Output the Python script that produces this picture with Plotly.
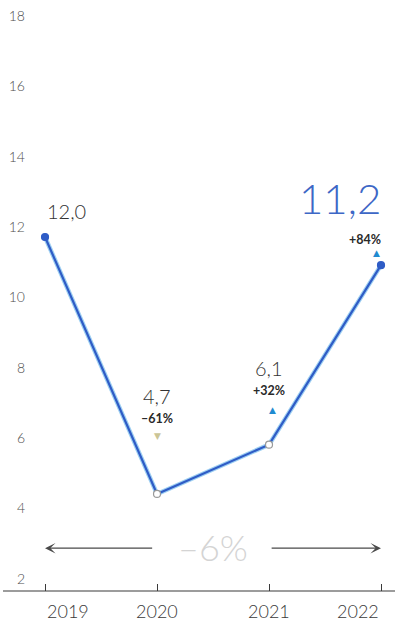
import plotly.graph_objects as go

# Passenger figures per year (millions) and year-on-year changes
years = [2019, 2020, 2021, 2022]
values = [12.0, 4.7, 6.1, 11.2]
value_labels = ["12,0", "4,7", "6,1", "11,2"]
change_labels = [None, "–61%", "+32%", "+84%"]
change_up = [None, False, True, True]
total_change_label = "–6%"
y_ticks = [2, 4, 6, 8, 10, 12, 14, 16, 18]

FONT = "Lato"
LINE_BLUE = "#2f5cc6"
TEXT_DARK = "#333333"

fig = go.Figure()

# soft halo under the line
fig.add_trace(go.Scatter(
    x=years, y=values, mode="lines",
    line=dict(color="#9fd0f2", width=4.5),
    hoverinfo="skip", showlegend=False,
))
# main line with markers: filled at the ends, hollow in between
fig.add_trace(go.Scatter(
    x=years, y=values, mode="lines+markers",
    line=dict(color=LINE_BLUE, width=2.2),
    marker=dict(
        size=7,
        color=[LINE_BLUE, "white", "white", LINE_BLUE],
        line=dict(color=[LINE_BLUE, "#9a9a9a", "#9a9a9a", LINE_BLUE], width=1.2),
    ),
    showlegend=False,
))

ann = []

# value labels
value_style = [
    dict(xanchor="left", xshift=0, yshift=26, size=20, color=TEXT_DARK),
    dict(xanchor="center", xshift=0, yshift=98, size=20, color=TEXT_DARK),
    dict(xanchor="center", xshift=0, yshift=77, size=20, color=TEXT_DARK),
    dict(xanchor="right", xshift=2, yshift=67, size=42, color="#3d67c6"),
]
change_style = [
    None,
    dict(xanchor="center", xshift=0, yshift=75, tri_shift=(0, 58)),
    dict(xanchor="center", xshift=0, yshift=54, tri_shift=(3, 35)),
    dict(xanchor="right", xshift=2, yshift=26, tri_shift=(-5, 12)),
]
for i, (x, y) in enumerate(zip(years, values)):
    s = value_style[i]
    ann.append(dict(
        x=x, y=y, xref="x", yref="y", text=value_labels[i], showarrow=False,
        xanchor=s["xanchor"], yanchor="middle", xshift=s["xshift"], yshift=s["yshift"],
        font=dict(family=FONT, size=s["size"], color=s["color"], weight=300),
    ))
    if change_labels[i]:
        c = change_style[i]
        ann.append(dict(
            x=x, y=y, xref="x", yref="y", text="<b>" + change_labels[i] + "</b>",
            showarrow=False, xanchor=c["xanchor"], yanchor="middle",
            xshift=c["xshift"], yshift=c["yshift"],
            font=dict(family=FONT, size=12.5, color="#2a2a2a"),
        ))
        up = change_up[i]
        ann.append(dict(
            x=x, y=y, xref="x", yref="y", text="▲" if up else "▼",
            showarrow=False, xanchor="center", yanchor="middle",
            xshift=c["tri_shift"][0], yshift=c["tri_shift"][1],
            font=dict(family="DejaVu Sans", size=9,
                      color="#1f8bd0" if up else "#cbc596"),
        ))

# overall change across the period, with arrows spanning the years
ARROW_LEVEL = 3.16
mid_year = (years[1] + years[2]) / 2
ann.append(dict(
    x=mid_year, y=ARROW_LEVEL, xref="x", yref="y", text=total_change_label,
    showarrow=False, xanchor="center", yanchor="middle", yshift=1,
    font=dict(family=FONT, size=36, color="#d4d4d4", weight=300),
))
ann.append(dict(
    x=years[0], y=ARROW_LEVEL, ax=mid_year - 0.53, ay=ARROW_LEVEL,
    xref="x", yref="y", axref="x", ayref="y", text="",
    showarrow=True, arrowhead=3, arrowsize=1.6, arrowwidth=1.1, arrowcolor="#4a4a4a",
))
ann.append(dict(
    x=years[3], y=ARROW_LEVEL, ax=mid_year + 0.51, ay=ARROW_LEVEL,
    xref="x", yref="y", axref="x", ayref="y", text="",
    showarrow=True, arrowhead=3, arrowsize=1.6, arrowwidth=1.1, arrowcolor="#4a4a4a",
))

# year labels under the baseline
year_anchor = ["left", "center", "center", "right"]
for x, a in zip(years, year_anchor):
    ann.append(dict(
        x=x, y=0, xref="x", yref="paper", text=str(x), showarrow=False,
        xanchor=a, yanchor="middle", yshift=-20,
        font=dict(family=FONT, size=18, color="#3a3a3a", weight=300),
    ))

fig.update_layout(
    width=395, height=623,
    margin=dict(l=28, r=0, t=0, b=32),
    paper_bgcolor="white", plot_bgcolor="white",
    annotations=ann,
    shapes=[dict(
        type="line", xref="paper", yref="paper",
        x0=-25 / 367, x1=1, y0=0, y1=0,
        line=dict(color="#3a3a3a", width=1.2),
    )],
    xaxis=dict(
        range=[2018.848, 2022.125], showgrid=False, zeroline=False, showline=False,
        tickvals=years, ticks="inside", ticklen=7, tickwidth=1, tickcolor="#3a3a3a",
        showticklabels=False, fixedrange=True,
    ),
    yaxis=dict(
        range=[1.943, 18.733], showgrid=False, zeroline=False, showline=False,
        tickvals=y_ticks, ticktext=[str(v) for v in y_ticks],
        ticklabelshift=-10, ticklabelstandoff=2,
        tickfont=dict(family=FONT, size=14, color="#4f4f4f", weight=300),
        fixedrange=True,
    ),
)

fig.write_html("out.html")
